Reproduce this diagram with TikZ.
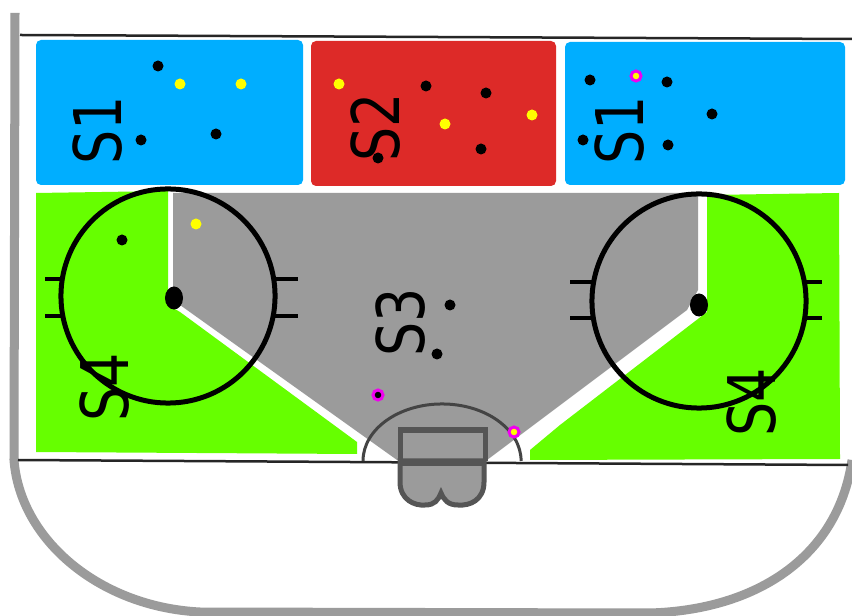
\documentclass[tikz,border=0pt]{standalone}
\usepackage{fontspec}
\setmainfont{DejaVu Sans}
\definecolor{zoneblue}{HTML}{00AEFF}
\definecolor{zonered}{HTML}{DD2A28}
\definecolor{zonegreen}{HTML}{66FF00}
\definecolor{icegray}{HTML}{9B9B9B}
\definecolor{netgray}{HTML}{555555}
\definecolor{dotmagenta}{HTML}{F000F0}
\definecolor{dotyellow}{HTML}{FFFF00}
\newcommand{\zonetext}[1]{\scalebox{0.82}[1]{#1}}

\begin{document}
\begin{tikzpicture}[x=0.01cm, y=-0.01cm,
	every node/.style={font=\fontsize{18.7}{20}\selectfont, rotate=90, inner sep=0pt},
	zoneline/.style={line width=0.05cm, black},
	hashline/.style={line width=0.045cm, black},
	boardline/.style={line width=0.025cm, black!85}]
	\useasboundingbox (0,0) rectangle (852,616);
	\fill[white] (0,0) rectangle (852,616);
	\fill[zoneblue, rounded corners=0.05cm] (36,40) rectangle (303,185);
	\fill[zonered, rounded corners=0.05cm] (311,41) rectangle (556,186);
	\fill[zoneblue, rounded corners=0.05cm] (565,42) rectangle (845,185);
	\fill[icegray] (173,193) -- (698,193) -- (698,290) -- (687,310) -- (487,460) -- (397,460) -- (180,305) -- (173,300) -- cycle;
	\fill[zonegreen] (36,193) -- (168,191) -- (168,305) -- (180,312) -- (357,442) -- (357,454) -- (36,452) -- cycle;
	\fill[zonegreen] (707,195) -- (839,193) -- (840,459) -- (530,460) -- (530,450) -- (560,425) -- (707,312) -- cycle;
	% board
	\draw[icegray, line width=0.09cm] (15,13) -- (14,460) .. controls (20,540) and (100,607) .. (200,612) -- (650,613) .. controls (755,610) and (838,558) .. (852,460);
	\draw[boardline] (20,35) -- (852,39);
	\draw[boardline] (18,460) -- (848,465);
	% crease and net
	\draw[netgray!80!black, line width=0.03cm] (363,461) arc[start angle=180, end angle=0, x radius=0.79cm, y radius=0.57cm];
	\filldraw[draw=netgray, fill=icegray, line width=0.05cm] (400,461) -- (400,482) .. controls (400,500) and (415,506) .. (425,505) .. controls (435,505) and (438,500) .. (441,493) .. controls (444,500) and (448,505) .. (458,505) .. controls (470,506) and (484,500) .. (484,482) -- (484,461) -- cycle;
	\draw[netgray, line width=0.05cm] (400,461) -- (400,430) -- (485,430) -- (485,461);
	\draw[netgray, line width=0.06cm] (398,463) -- (486,463);
	% circles
	\draw[zoneline] (168,296) circle[radius=1.07cm];
	\draw[zoneline] (699,301) circle[radius=1.07cm];
	\fill[black] (174,298) ellipse[x radius=0.09cm, y radius=0.115cm];
	\fill[black] (699,305) ellipse[x radius=0.09cm, y radius=0.115cm];
	\foreach \y in {279,316} {
		\draw[hashline] (45,\y) -- (63,\y);
		\draw[hashline] (275,\y) -- (298,\y);
	}
	\foreach \y in {282,318} {
		\draw[hashline] (570,\y) -- (593,\y);
		\draw[hashline] (805,\y) -- (822,\y);
	}
	% labels
	\node (sOneLeft) at (98,130) {\zonetext{S1}};
	\node (sTwo) at (376,127) {\zonetext{S2}};
	\node (sOneRight) at (620,130) {\zonetext{S1}};
	\node (sThree) at (401,322) {\zonetext{S3}};
	\node (sFourLeft) at (105,387) {\zonetext{S4}};
	\node (sFourRight) at (752,402) {\zonetext{S4}};
	% shots
	\foreach \x/\y in {158/66,141/140,216/134,426/86,486/93,481/149,378/158,590/80,667/82,712/114,583/140,668/145,450/305,437/354,122/240}
		\fill[black] (\x,\y) circle[radius=0.055cm];
	\foreach \x/\y in {180/84,241/84,339/84,445/124,532/115,196/224}
		\fill[dotyellow] (\x,\y) circle[radius=0.055cm];
	\foreach \x/\y/\c in {636/76/dotyellow,378/395/black,514/432/dotyellow}
		\filldraw[draw=dotmagenta, fill=\c, line width=0.03cm] (\x,\y) circle[radius=0.05cm];
\end{tikzpicture}
\end{document}
